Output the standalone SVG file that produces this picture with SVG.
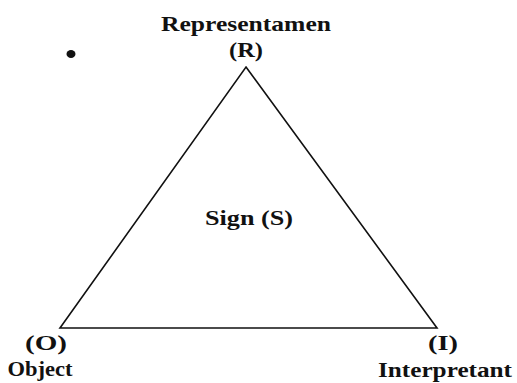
<svg xmlns="http://www.w3.org/2000/svg" width="517" height="383" viewBox="0 0 517 383">
<style>
text{font-family:"Liberation Serif","Times New Roman",serif;font-weight:bold;font-size:21px;fill:#111;text-anchor:middle}
.edge{stroke:#111;stroke-width:1.6;fill:none;stroke-linejoin:miter}
</style>
<rect width="517" height="383" fill="#fff"/>
<g id="connectors">
<path class="edge" d="M246,67 L437,328 L60,328 Z"/>
</g>
<g id="node-R">
<text x="246" y="31" textLength="170" lengthAdjust="spacingAndGlyphs">Representamen</text>
<text x="246" y="57" textLength="34" lengthAdjust="spacingAndGlyphs">(R)</text>
</g>
<g id="node-S">
<text x="249" y="225" textLength="88" lengthAdjust="spacingAndGlyphs">Sign (S)</text>
</g>
<g id="node-O">
<text x="46" y="350" textLength="42" lengthAdjust="spacingAndGlyphs">(O)</text>
<text x="40" y="376" textLength="65" lengthAdjust="spacingAndGlyphs">Object</text>
</g>
<g id="node-I">
<text x="443" y="350" textLength="30" lengthAdjust="spacingAndGlyphs">(I)</text>
<text x="445" y="377" textLength="134" lengthAdjust="spacingAndGlyphs">Interpretant</text>
</g>
<g id="mark">
<ellipse cx="71" cy="54" rx="4.5" ry="4" fill="#111"/>
</g>
</svg>
